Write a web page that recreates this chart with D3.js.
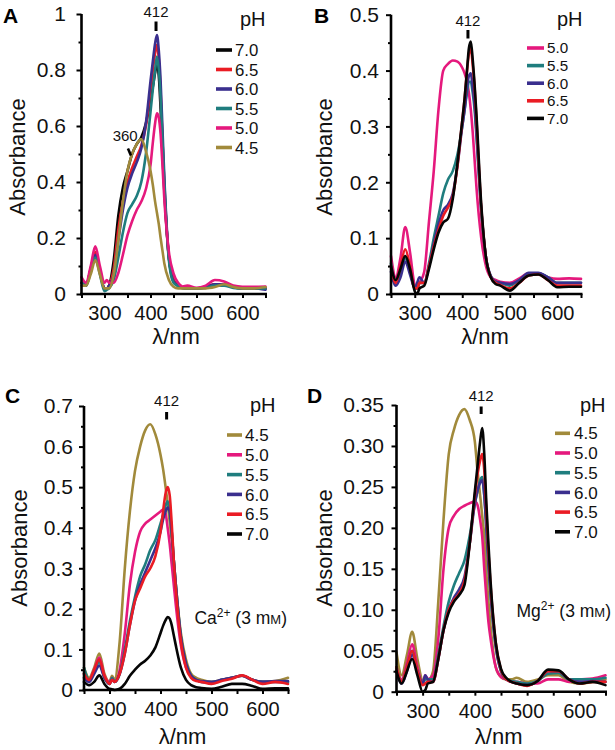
<!DOCTYPE html>
<html>
<head>
<meta charset="utf-8">
<script src="https://cdn.jsdelivr.net/npm/d3@7"></script>
<style>
  html, body { margin: 0; padding: 0; background: #fff; }
  svg { display: block; font-family: "Liberation Sans", Arial, Helvetica, sans-serif; }
</style>
</head>
<body>
<svg id="chart" width="615" height="750"></svg>
<script>
// ---------------- DATA ----------------
const wavelengths = [250,260,270,280,290,300,305,310,320,330,340,350,360,370,380,390,400,405,410,414,418,422,426,430,440,450,460,470,480,500,520,540,560,580,600,625,650];

// Panel A (no added ion)
const phA = ["7.0","6.5","6.0","5.5","5.0","4.5"];
const absA_70 = [0.04,0.03,0.09,0.14,0.08,0.02,0.02,0.03,0.12,0.28,0.38,0.44,0.5,0.535,0.56,0.61,0.69,0.74,0.79,0.82,0.78,0.66,0.5,0.37,0.13,0.05,0.03,0.022,0.02,0.02,0.025,0.035,0.035,0.025,0.02,0.02,0.02];
const absA_65 = [0.04,0.03,0.09,0.15,0.08,0.02,0.02,0.03,0.09,0.23,0.33,0.4,0.45,0.49,0.53,0.6,0.73,0.8,0.86,0.89,0.84,0.72,0.55,0.39,0.13,0.05,0.03,0.022,0.02,0.02,0.025,0.035,0.035,0.025,0.02,0.02,0.02];
const absA_60 = [0.04,0.03,0.09,0.14,0.08,0.02,0.02,0.03,0.07,0.19,0.3,0.38,0.43,0.47,0.52,0.61,0.76,0.83,0.895,0.925,0.87,0.76,0.59,0.42,0.13,0.045,0.03,0.022,0.02,0.02,0.025,0.035,0.035,0.025,0.02,0.02,0.015];
const absA_55 = [0.04,0.03,0.08,0.13,0.07,0.01,0.015,0.02,0.05,0.13,0.22,0.29,0.32,0.35,0.4,0.5,0.65,0.73,0.8,0.848,0.8,0.7,0.55,0.4,0.12,0.04,0.028,0.02,0.02,0.02,0.022,0.03,0.03,0.022,0.02,0.02,0.02];
const absA_50 = [0.06,0.04,0.1,0.17,0.1,0.04,0.05,0.04,0.04,0.075,0.14,0.21,0.26,0.3,0.33,0.375,0.46,0.54,0.61,0.645,0.63,0.57,0.46,0.34,0.15,0.074,0.04,0.027,0.03,0.022,0.03,0.05,0.045,0.03,0.026,0.026,0.027];
const absA_45 = [0.03,0.03,0.07,0.12,0.07,0.02,0.02,0.02,0.07,0.19,0.33,0.44,0.5,0.535,0.553,0.51,0.44,0.39,0.33,0.29,0.25,0.2,0.155,0.11,0.05,0.026,0.02,0.02,0.02,0.02,0.02,0.025,0.035,0.025,0.02,0.02,0.025];

// Panel B
const phB = ["5.0","5.5","6.0","6.5","7.0"];
const absB_50 = [0.068,0.03,0.065,0.12,0.075,0.015,0.01,0.02,0.04,0.13,0.22,0.33,0.4,0.412,0.418,0.416,0.405,0.395,0.38,0.36,0.33,0.29,0.24,0.19,0.1,0.05,0.03,0.025,0.022,0.02,0.028,0.037,0.037,0.03,0.027,0.028,0.027];
const absB_55 = [0.055,0.02,0.04,0.065,0.04,0.01,0.01,0.02,0.02,0.055,0.1,0.14,0.18,0.205,0.22,0.25,0.3,0.33,0.36,0.38,0.38,0.36,0.33,0.28,0.15,0.065,0.032,0.022,0.02,0.015,0.025,0.035,0.037,0.03,0.02,0.02,0.02];
const absB_60 = [0.04,0.015,0.03,0.058,0.035,0.01,0.02,0.03,0.02,0.05,0.09,0.125,0.15,0.16,0.18,0.23,0.3,0.33,0.37,0.39,0.395,0.37,0.34,0.29,0.15,0.065,0.032,0.022,0.02,0.018,0.025,0.038,0.038,0.03,0.02,0.02,0.02];
const absB_65 = [0.05,0.02,0.05,0.08,0.05,0.01,0.01,0.02,0.02,0.05,0.085,0.115,0.14,0.155,0.175,0.23,0.31,0.35,0.4,0.43,0.44,0.41,0.37,0.31,0.155,0.065,0.03,0.02,0.016,0.01,0.02,0.033,0.035,0.025,0.015,0.015,0.015];
const absB_70 = [0.05,0.025,0.045,0.068,0.045,0.005,0.0,0.01,0.015,0.045,0.08,0.11,0.128,0.135,0.17,0.235,0.31,0.35,0.4,0.44,0.452,0.42,0.375,0.32,0.16,0.065,0.03,0.018,0.015,0.006,0.02,0.033,0.035,0.025,0.012,0.013,0.013];

// Panel C (Ca2+ 3 mM)
const phC = ["4.5","5.0","5.5","6.0","6.5","7.0"];
const absC_45 = [0.055,0.03,0.055,0.09,0.04,0.02,0.035,0.025,0.12,0.3,0.44,0.54,0.6,0.64,0.655,0.63,0.58,0.545,0.5,0.46,0.415,0.37,0.32,0.26,0.14,0.075,0.04,0.03,0.025,0.02,0.025,0.03,0.035,0.025,0.02,0.022,0.03];
const absC_50 = [0.04,0.025,0.05,0.08,0.035,0.02,0.03,0.02,0.05,0.14,0.26,0.34,0.39,0.41,0.42,0.43,0.44,0.445,0.435,0.4,0.36,0.31,0.26,0.21,0.11,0.055,0.033,0.025,0.02,0.018,0.025,0.03,0.035,0.025,0.02,0.02,0.02];
const absC_55 = [0.055,0.025,0.045,0.07,0.03,0.015,0.03,0.02,0.04,0.1,0.17,0.23,0.28,0.31,0.345,0.37,0.41,0.43,0.455,0.465,0.44,0.39,0.32,0.26,0.13,0.065,0.035,0.025,0.02,0.018,0.025,0.03,0.035,0.025,0.02,0.02,0.02];
const absC_60 = [0.03,0.02,0.04,0.06,0.03,0.015,0.025,0.02,0.04,0.09,0.16,0.22,0.26,0.29,0.32,0.35,0.39,0.42,0.44,0.45,0.44,0.39,0.32,0.26,0.13,0.065,0.035,0.025,0.022,0.02,0.025,0.03,0.035,0.025,0.02,0.022,0.022];
const absC_65 = [0.04,0.025,0.05,0.075,0.035,0.015,0.025,0.02,0.04,0.09,0.16,0.22,0.25,0.28,0.3,0.33,0.39,0.44,0.485,0.5,0.48,0.41,0.32,0.25,0.12,0.055,0.03,0.022,0.02,0.015,0.022,0.028,0.036,0.025,0.015,0.02,0.015];
const absC_70 = [0.02,0.012,0.02,0.036,0.015,0.003,0.002,0.0,0.003,0.015,0.035,0.05,0.063,0.072,0.085,0.105,0.14,0.158,0.172,0.18,0.176,0.16,0.135,0.11,0.055,0.025,0.012,0.007,0.005,0.003,0.008,0.015,0.015,0.01,0.003,0.004,0.004];

// Panel D (Mg2+ 3 mM)
const phD = ["4.5","5.0","5.5","6.0","6.5","7.0"];
const absD_45 = [0.048,0.02,0.045,0.073,0.04,0.012,0.01,0.012,0.025,0.11,0.21,0.29,0.32,0.338,0.345,0.332,0.305,0.27,0.24,0.215,0.19,0.145,0.11,0.08,0.03,0.018,0.015,0.015,0.017,0.012,0.015,0.02,0.02,0.012,0.01,0.012,0.015];
const absD_50 = [0.028,0.015,0.035,0.058,0.03,0.01,0.02,0.015,0.02,0.065,0.15,0.2,0.215,0.223,0.227,0.23,0.232,0.228,0.21,0.19,0.15,0.115,0.085,0.065,0.03,0.018,0.015,0.012,0.012,0.01,0.01,0.015,0.015,0.012,0.015,0.016,0.02];
const absD_55 = [0.03,0.012,0.03,0.05,0.025,0.01,0.015,0.015,0.015,0.045,0.08,0.11,0.13,0.145,0.16,0.19,0.23,0.245,0.258,0.262,0.24,0.2,0.155,0.12,0.055,0.025,0.015,0.013,0.012,0.01,0.013,0.022,0.023,0.015,0.015,0.015,0.017];
const absD_60 = [0.025,0.01,0.025,0.045,0.025,0.01,0.02,0.015,0.012,0.04,0.075,0.1,0.115,0.125,0.14,0.18,0.23,0.245,0.255,0.258,0.24,0.2,0.155,0.12,0.055,0.025,0.015,0.012,0.01,0.008,0.013,0.025,0.025,0.015,0.012,0.013,0.012];
const absD_65 = [0.03,0.012,0.03,0.05,0.025,0.008,0.01,0.012,0.012,0.04,0.075,0.1,0.112,0.12,0.135,0.18,0.24,0.265,0.282,0.29,0.27,0.22,0.17,0.13,0.06,0.027,0.015,0.012,0.01,0.007,0.013,0.025,0.025,0.015,0.01,0.012,0.012];
const absD_70 = [0.025,0.01,0.025,0.04,0.02,0.0,0.002,0.01,0.012,0.04,0.075,0.097,0.11,0.118,0.13,0.18,0.245,0.275,0.305,0.322,0.29,0.23,0.18,0.135,0.06,0.028,0.017,0.012,0.01,0.008,0.013,0.027,0.026,0.015,0.01,0.012,0.008];

// Tick values
const xTicks = [250,300,350,400,450,500,550,600,650];
const xTickLabels = [300,400,500,600];
const yTicksA = [0,0.2,0.4,0.6,0.8,1];
const yTicksB = [0,0.1,0.2,0.3,0.4,0.5];
const yTicksC = [0,0.1,0.2,0.3,0.4,0.5,0.6,0.7];
const yTicksD = [0,0.05,0.10,0.15,0.20,0.25,0.30,0.35];

// Colours per pH
const phColor = {"7.0":"#050505","6.5":"#ea1c24","6.0":"#3a2f8e","5.5":"#1f7d7e","5.0":"#e5197d","4.5":"#a18a3b"};

// ---------------- LAYOUT ----------------
const svg = d3.select("#chart");
const FONT = '"Liberation Sans", Arial, Helvetica, sans-serif';

const panels = [
  { letter:"A", lp:[3,23], xr:[81.5,265.5], yr:[294,14], ymax:1, yTicks:yTicksA, yFmt:d=>d===0?"0":(d===1?"1":d.toFixed(1)), ypad:10.5,
    ph:phA, vals:[absA_70,absA_65,absA_60,absA_55,absA_50,absA_45],
    peakLab:{base:17, m0:21.5, m1:31},
    leg:{x0:216, x1:232, tx:235, y0:50, dy:19.5, fs:16.8, phx:240, phy:26},
    ylab:{x:25, y:157}, xlab:{x:176, y:344} },
  { letter:"B", lp:[314,23], xr:[391,581], yr:[294,14.7], ymax:0.5, yTicks:yTicksB, yFmt:d=>d===0?"0":d.toFixed(1), ypad:7,
    ph:phB, vals:[absB_50,absB_55,absB_60,absB_65,absB_70],
    peakLab:{base:26, m0:30, m1:38.5},
    leg:{x0:527, x1:544, tx:547, y0:48, dy:17.6, fs:15.2, phx:557, phy:26},
    ylab:{x:332, y:157}, xlab:{x:485, y:344} },
  { letter:"C", lp:[5,403], xr:[84,288], yr:[690,406], ymax:0.7, yTicks:yTicksC, yFmt:d=>d===0?"0":d.toFixed(1), ypad:6,
    ph:phC, vals:[absC_45,absC_50,absC_55,absC_60,absC_65,absC_70],
    peakLab:{base:406, m0:412, m1:419.5},
    leg:{x0:227, x1:242, tx:245, y0:435, dy:19.8, fs:17, phx:250, phy:412},
    ylab:{x:26.5, y:548}, xlab:{x:182.5, y:744},
    ion:{name:"Ca", x:287, y:624} },
  { letter:"D", lp:[307,403], xr:[396.5,605.5], yr:[691.7,405], ymax:0.35, yTicks:yTicksD, yFmt:d=>d===0?"0":d.toFixed(2), ypad:7.5,
    ph:phD, vals:[absD_45,absD_50,absD_55,absD_60,absD_65,absD_70],
    peakLab:{base:400.5, m0:406.5, m1:414},
    leg:{x0:555, x1:570, tx:574, y0:433.3, dy:19.7, fs:17, phx:580, phy:412},
    ylab:{x:332, y:548}, xlab:{x:498.7, y:744},
    ion:{name:"Mg", x:611, y:617} }
];

panels.forEach(p => {
  const x = d3.scaleLinear().domain([250,650]).range(p.xr);
  const y = d3.scaleLinear().domain([0,p.ymax]).range(p.yr);
  const g = svg.append("g");

  // curves
  const line = d3.line().x(d => x(d[0])).y(d => y(d[1])).curve(d3.curveMonotoneX);
  p.ph.forEach((ph, i) => {
    const pts = wavelengths.map((w, k) => [w, p.vals[i][k]]);
    g.append("path").datum(pts).attr("d", line)
      .attr("fill","none").attr("stroke", phColor[ph]).attr("stroke-width", 2.6)
      .attr("stroke-linejoin","round").attr("stroke-linecap","round");
  });

  // y axis (major + minor)
  const minor = [];
  for (let i = 0; i < p.yTicks.length - 1; i++) minor.push((p.yTicks[i] + p.yTicks[i+1]) / 2);
  const yAxis = d3.axisLeft(y).tickValues(p.yTicks).tickFormat(p.yFmt).tickSize(5).tickSizeOuter(0).tickPadding(p.ypad);
  const ya = g.append("g").attr("transform", `translate(${p.xr[0]},0)`).call(yAxis);
  const yMinor = d3.axisLeft(y).tickValues(minor).tickFormat("").tickSize(3).tickSizeOuter(0);
  const ym = g.append("g").attr("transform", `translate(${p.xr[0]},0)`).call(yMinor);
  ym.select(".domain").remove();

  // x axis
  const xAxis = d3.axisBottom(x).tickValues(xTicks)
    .tickFormat(d => xTickLabels.includes(d) ? String(d) : "").tickSize(4).tickSizeOuter(0).tickPadding(8);
  const xa = g.append("g").attr("transform", `translate(0,${p.yr[0]})`).call(xAxis);

  [ya, ym, xa].forEach(a => {
    a.selectAll(".domain").attr("stroke","#000").attr("stroke-width",2.6);
    a.selectAll(".tick line").attr("stroke","#000").attr("stroke-width",2);
    a.selectAll(".tick text").attr("fill","#111").style("font-family",FONT);
    a.selectAll(".tick text").filter(function(){ return this.textContent === ""; }).remove();
  });
  ya.selectAll(".tick text").style("font-size","21px");
  xa.selectAll(".tick text").style("font-size","20px");
  ya.select(".domain").attr("d", `M0,${p.yr[0]+1.3}V${p.yr[1]}`);
  xa.select(".domain").attr("d", `M${p.xr[0]-1.3},0H${p.xr[1]+1.5}`);

  // axis titles
  g.append("text").attr("transform", `translate(${p.ylab.x},${p.ylab.y}) rotate(-90)`)
    .attr("text-anchor","middle").style("font-size","22px").attr("fill","#111").text("Absorbance");
  g.append("text").attr("x", p.xlab.x).attr("y", p.xlab.y)
    .attr("text-anchor","middle").style("font-size","22px").attr("fill","#111").text("λ/nm");

  // panel letter
  g.append("text").attr("x", p.lp[0]).attr("y", p.lp[1])
    .style("font-size","21px").style("font-weight","bold").attr("fill","#000").text(p.letter);

  // 412 marker
  g.append("text").attr("x", x(412)).attr("y", p.peakLab.base).attr("text-anchor","middle")
    .style("font-size","15px").attr("fill","#111").text("412");
  g.append("line").attr("x1", x(412)).attr("x2", x(412)).attr("y1", p.peakLab.m0).attr("y2", p.peakLab.m1)
    .attr("stroke","#000").attr("stroke-width",3);

  // legend
  g.append("text").attr("x", p.leg.phx).attr("y", p.leg.phy).style("font-size","20px").attr("fill","#111").text("pH");
  p.ph.forEach((ph, i) => {
    const cy = p.leg.y0 + i * p.leg.dy;
    g.append("line").attr("x1", p.leg.x0).attr("x2", p.leg.x1).attr("y1", cy).attr("y2", cy)
      .attr("stroke", phColor[ph]).attr("stroke-width", 3.6);
    g.append("text").attr("x", p.leg.tx).attr("y", cy + p.leg.fs * 0.36).style("font-size", p.leg.fs + "px").attr("fill","#111").text(ph);
  });

  // ion annotation (right-aligned)
  if (p.ion) {
    const t = g.append("text").attr("x", p.ion.x).attr("y", p.ion.y).attr("text-anchor","end")
      .style("font-size","17.5px").attr("fill","#111");
    t.append("tspan").text(p.ion.name);
    t.append("tspan").attr("dy",-7).style("font-size","12px").text("2+");
    t.append("tspan").attr("dy",7).text(" (3 m");
    t.append("tspan").style("font-size","13px").text("M");
    t.append("tspan").text(")");
  }

  // 360 marker (panel A)
  if (p.letter === "A") {
    g.append("text").attr("x", x(345)).attr("y", 141).attr("text-anchor","middle")
      .style("font-size","15px").attr("fill","#111").text("360");
    g.append("line").attr("x1", x(351)).attr("y1", 148.5).attr("x2", x(357.5)).attr("y2", 155.5)
      .attr("stroke","#000").attr("stroke-width",2.6);
  }
});
svg.selectAll("text").style("font-family", FONT);
</script>
</body>
</html>
